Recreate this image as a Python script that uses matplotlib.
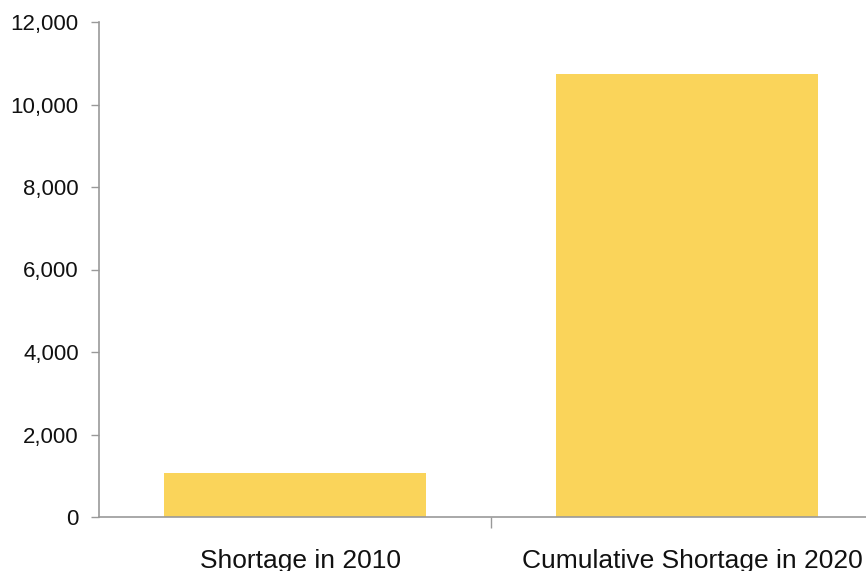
import numpy as np
import matplotlib
matplotlib.use("Agg")
import matplotlib.pyplot as plt
import matplotlib.transforms as mtransforms
from matplotlib.ticker import FuncFormatter

# Data
categories = ["Shortage in 2010", "Cumulative Shortage in 2020"]
values = [1075, 10730]
yticks = [0, 2000, 4000, 6000, 8000, 10000, 12000]

plt.rcParams['font.family'] = ['Liberation Sans', 'DejaVu Sans']

fig = plt.figure(figsize=(8.66, 5.71), dpi=100)
ax = fig.add_axes([99 / 866, 1 - 517 / 571, 784 / 866, (517 - 22) / 571])

x = np.arange(len(categories))
ax.bar(x, values, width=0.667, color='#FAD45A', zorder=2)

ax.set_xlim(-0.5, len(categories) - 0.5)
ax.set_ylim(0, 12000)
ax.set_yticks(yticks)
ax.yaxis.set_major_formatter(FuncFormatter(lambda v, p: f"{int(v):,}"))

# category labels centred, ticks between categories
ax.set_xticks(x)
ax.set_xticklabels(categories, fontsize=19, color='#111111')
ax.set_xticks([0.5], minor=True)
ax.tick_params(axis='x', which='major', length=0, pad=23)
ax.tick_params(axis='x', which='minor', length=8, width=1, color='#999999')
ax.tick_params(axis='y', length=6, width=1, color='#999999', labelsize=16,
               pad=8.5, labelcolor='#111111')

# labels sit a few pixels right of the bar centres in the reference
shift = mtransforms.ScaledTranslation(5 / 100, 0, fig.dpi_scale_trans)
for lbl in ax.get_xticklabels():
    lbl.set_transform(lbl.get_transform() + shift)

for s in ['top', 'right']:
    ax.spines[s].set_visible(False)
for s in ['left', 'bottom']:
    ax.spines[s].set_color('#999999')
    ax.spines[s].set_linewidth(1.2)

fig.savefig("out.png", dpi=100)
